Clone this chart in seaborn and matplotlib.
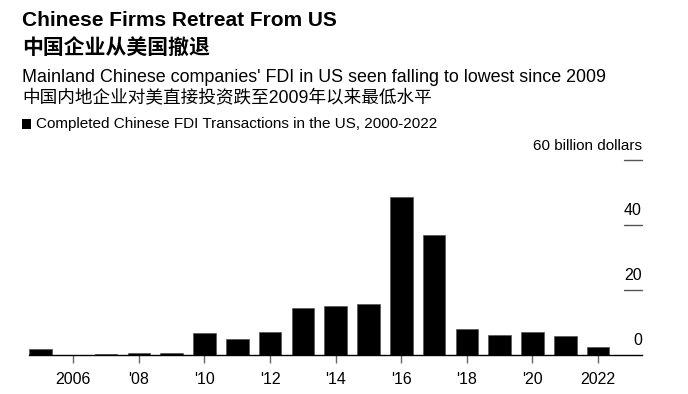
import matplotlib
matplotlib.use('Agg')
import matplotlib.pyplot as plt
import matplotlib.transforms as mtransforms
from matplotlib.patches import Rectangle
import numpy as np
import pandas as pd
import seaborn as sns

# Completed Chinese FDI transactions in the US, billion dollars
years = [2005, 2006, 2007, 2008, 2009, 2010, 2011, 2012, 2013,
         2014, 2015, 2016, 2017, 2018, 2019, 2020, 2021, 2022]
fdi = [1.8, 0.1, 0.4, 0.6, 0.5, 6.8, 4.8, 7.1, 14.5,
       15.2, 15.6, 48.5, 36.8, 7.9, 6.2, 7.1, 5.7, 2.4]
tick_years = [2006, 2008, 2010, 2012, 2014, 2016, 2018, 2020, 2022]
tick_labels = ['2006', "'08", "'10", "'12", "'14", "'16", "'18", "'20", '2022']
y_ticks = [0, 20, 40, 60]
y_labels = ['0', '20', '40', '60 billion dollars']

df = pd.DataFrame({'year': years, 'fdi': fdi})

sns.set_style('white')
plt.rcParams['font.family'] = ['Liberation Sans', 'Noto Sans CJK SC', 'DejaVu Sans']
plt.rcParams['text.color'] = 'black'
plt.rcParams['xtick.color'] = 'black'

W, H = 688, 394
fig = plt.figure(figsize=(W / 100, H / 100), dpi=100)
ax = fig.add_axes([29 / W, 39 / H, (642 - 29) / W, (355 - 160) / H])

sns.barplot(data=df, x='year', y='fdi', native_scale=True, width=0.69,
            color='black', edgecolor='#555555', linewidth=0.5, saturation=1, ax=ax)

ax.set_xlim(2004.65, 2023.34)
ax.set_ylim(0, 60)
for s in ['top', 'right', 'left']:
    ax.spines[s].set_visible(False)
ax.spines['bottom'].set_color('black')
ax.spines['bottom'].set_linewidth(1.0)
ax.set_xlabel('')
ax.set_ylabel('')
ax.set_xticks(tick_years)
ax.set_xticklabels(tick_labels, fontsize=11.5)
ax.tick_params(axis='x', length=6, width=1, color='#666666', pad=6, direction='out',
               bottom=True, labelcolor='black')
ax.set_yticks([])

# right-side value labels sitting on short tick lines
trans = mtransforms.blended_transform_factory(ax.transAxes, ax.transData)
for v, lab in zip(y_ticks, y_labels):
    if v > 0:
        ax.plot([0.971, 1.0], [v, v], transform=trans, color='#555555', lw=1, clip_on=False)
    ax.annotate(lab, xy=(1.0, v), xycoords=trans, xytext=(0, 5), textcoords='offset points',
                ha='right', va='bottom', fontsize=11.5 if v < 60 else 11)

fig.text(22 / W, 1 - 21 / H, 'Chinese Firms Retreat From US', fontsize=15,
         fontweight='bold', va='center', ha='left')
fig.text(22 / W, 1 - 49 / H, '中国企业从美国撤退', fontsize=15,
         fontweight='bold', va='center', ha='left')
fig.text(22 / W, 1 - 77 / H, "Mainland Chinese companies' FDI in US seen falling to lowest since 2009",
         fontsize=12.9, va='center', ha='left')
fig.text(22 / W, 1 - 98 / H, '中国内地企业对美直接投资跌至2009年以来最低水平',
         fontsize=12.7, va='center', ha='left')
fig.patches.append(Rectangle((22 / W, 1 - 129 / H), 9 / W, 10 / H, transform=fig.transFigure,
                             facecolor='black', edgecolor='none'))
fig.text(36 / W, 1 - 124 / H, 'Completed Chinese FDI Transactions in the US, 2000-2022',
         fontsize=11, va='center', ha='left')

fig.savefig('out.png', dpi=100)
